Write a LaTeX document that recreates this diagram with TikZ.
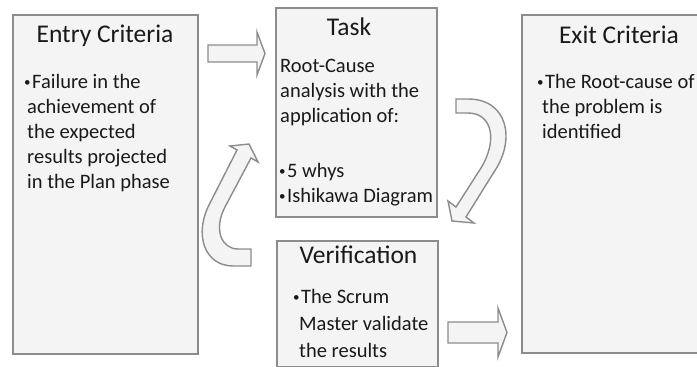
\documentclass[tikz,border=0pt]{standalone}
\usepackage{fontspec}
\setmainfont{Carlito}
\definecolor{boxgray}{RGB}{140,140,140}
\definecolor{boxfill}{RGB}{244,244,244}
\definecolor{inkblack}{RGB}{25,25,25}
\newcommand{\smallbullet}{{\fontsize{13}{13}\selectfont\raisebox{2pt}{\textbullet}}\kern1.5pt}
\begin{document}
\begin{tikzpicture}[x=1pt, y=-1pt,
    box/.style={draw=boxgray, line width=1.6pt, fill=boxfill, anchor=north west, inner sep=0},
    blockarrow/.style={draw=boxgray, line width=1.4pt, fill=boxfill},
    boxtitle/.style={anchor=base, inner sep=0, text=inkblack, font=\fontsize{25.5}{30}\selectfont},
    bodyline/.style={anchor=base west, inner sep=0, text=inkblack, font=\fontsize{20.5}{25}\selectfont}]
        \useasboundingbox (0,0) rectangle (697,367);

        % Boxes
        \node[box, minimum width=185pt, minimum height=339pt] (entrybox) at (12,14) {};
        \node[box, minimum width=161pt, minimum height=209pt] (taskbox) at (275,7) {};
        \node[box, minimum width=161pt, minimum height=126pt] (verifbox) at (276,240) {};
        \node[box, minimum width=196pt, minimum height=338pt] (exitbox) at (521,14) {};

        % Titles
        \node[boxtitle] (entrytitle) at (105,42) {Entry Criteria};
        \node[boxtitle] (tasktitle) at (349,35) {Task};
        \node[boxtitle] (veriftitle) at (358.5,263) {Verification};
        \node[boxtitle] (exittitle) at (619,43) {Exit Criteria};

        % Entry criteria text
        \node[bodyline] (entryA) at (24,88) {\smallbullet Failure in the};
        \node[bodyline] (entryB) at (27,113) {achievement of};
        \node[bodyline] (entryC) at (27,138) {the expected};
        \node[bodyline] (entryD) at (27,163) {results projected};
        \node[bodyline] (entryE) at (27,188) {in the Plan phase};

        % Task text
        \node[bodyline] (taskA) at (280,72) {Root-Cause};
        \node[bodyline] (taskB) at (280,97) {analysis with the};
        \node[bodyline] (taskC) at (280,122) {application of:};
        \node[bodyline] (taskD) at (279,177) {\smallbullet 5 whys};
        \node[bodyline] (taskE) at (279,202) {\smallbullet Ishikawa Diagram};

        % Verification text
        \node[bodyline] (verifA) at (293,303) {\smallbullet The Scrum};
        \node[bodyline] (verifB) at (299,330) {Master validate};
        \node[bodyline] (verifC) at (299,357) {the results};

        % Exit criteria text
        \node[bodyline] (exitA) at (537,88) {\smallbullet The Root-cause of};
        \node[bodyline] (exitB) at (542,113) {the problem is};
        \node[bodyline] (exitC) at (542,138) {identified};

        % Straight arrows
        \draw[blockarrow] (208,45) -- (257,45) -- (257,32) -- (265,53.5) -- (257,75) -- (257,62) -- (208,62) -- cycle;
        \draw[blockarrow] (448,322) -- (498,322) -- (498,308) -- (507,332.5) -- (498,357) -- (498,343) -- (448,343) -- cycle;

        % Curved arrows
        \draw[blockarrow] (456,99) -- (468,99) .. controls (508,99) and (516,140) .. (494,172) -- (466,217) -- (474,223) -- (452,221) -- (448,201) -- (456,207) -- (481,168) .. controls (498,140) and (492,113) .. (468,113) -- (456,113) -- cycle;
        \draw[blockarrow] (251,266) -- (233,266) .. controls (205,266) and (193,235) .. (210,203) -- (237,150) -- (230,146) -- (249,144) -- (258,162) -- (251,158) -- (225,207) .. controls (213,230) and (222,249) .. (238,249) -- (251,249) -- cycle;
    \end{tikzpicture}
\end{document}
